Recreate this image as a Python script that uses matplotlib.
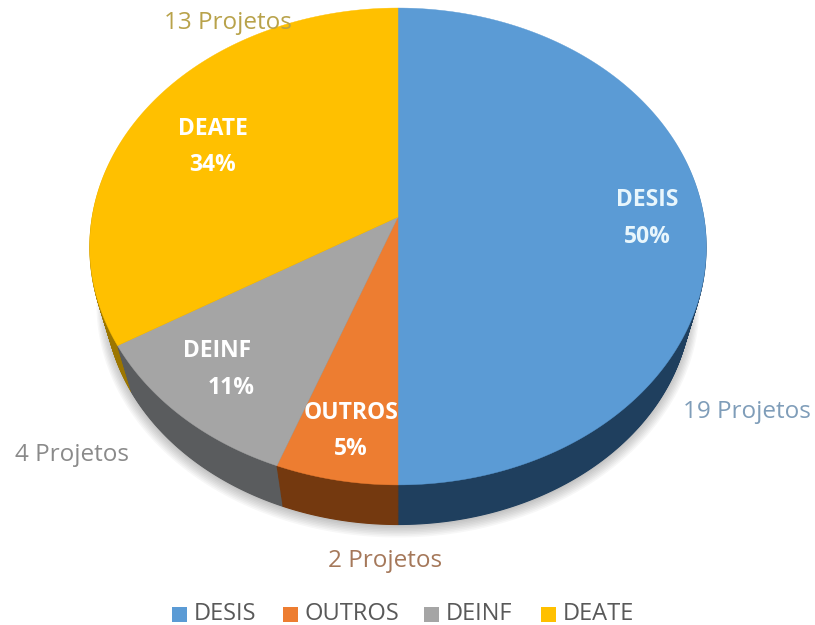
import numpy as np
import matplotlib
matplotlib.use('Agg')
import matplotlib.pyplot as plt
from matplotlib.patches import Rectangle

plt.rcParams['font.family'] = ['Open Sans', 'DejaVu Sans']

# Dados do grafico
setores = ['DESIS', 'OUTROS', 'DEINF', 'DEATE']
projetos = [19, 2, 4, 13]
porcentagens = ['50%', '5%', '11%', '34%']
cores = ['#5B9BD5', '#ED7D31', '#A5A5A5', '#FFC000']
cores_lado = ['#1F3F5E', '#74390F', '#5A5C5E', '#9C7600']
cores_rotulo = ['#7F9DB9', '#A5785A', '#8A8A8A', '#B8A24A']

# Posicao dos textos em pixels
pos_nome = [(647, 200), (351, 413), (217, 351), (213, 129)]
pos_pct = [(647, 237), (351, 449), (231, 388), (213, 165)]
pos_projetos = [(747, 412), (385, 561), (72, 455), (228, 23)]

# Geometria da pizza em perspectiva
cx, cy = 398, 217
a, b, k = 306, 234.8, 0.1236
queda = 53
escala_base = 0.95
camadas = 45


def projetar(x, y, dy=0, escala=1.0):
    d = 1 + k * y
    return cx + escala * a * x / d, cy + dy - escala * b * y / d


def fatia(inicio, fim, dy=0, escala=1.0):
    t = np.linspace(inicio, fim, 200)
    # pequeno ajuste angular da perspectiva
    t = t + np.radians(2.5) * np.sin(2 * (t - np.pi))
    x = np.r_[0, np.sin(t), 0]
    y = np.r_[0, np.cos(t), 0]
    return projetar(x, y, dy, escala)


fig = plt.figure(figsize=(8.15, 6.25), dpi=100)
ax = fig.add_axes([0, 0, 1, 1])
ax.set_xlim(0, 815)
ax.set_ylim(625, 0)
ax.axis('off')

# Sombra
t = np.linspace(0, 2 * np.pi, 400)
for i in range(8):
    sx, sy = projetar(np.sin(t), np.cos(t), queda + 2 + i * 0.5, escala_base + 0.004 * i)
    ax.fill(sx, sy, color='black', alpha=0.03, lw=0, zorder=1)

total = sum(projetos)
limites = 2 * np.pi * np.r_[0, np.cumsum(projetos)] / total

# Lateral
for n in range(camadas, 0, -1):
    f = n / camadas
    for i in [3, 0, 2, 1]:
        ax.fill(*fatia(limites[i], limites[i + 1], queda * f, 1 - (1 - escala_base) * f),
                color=cores_lado[i], lw=0.8, zorder=2)

# Face superior
for i in range(len(setores)):
    ax.fill(*fatia(limites[i], limites[i + 1]), color=cores[i], lw=0.3, zorder=3)

# Rotulos
for i, nome in enumerate(setores):
    cor = '#FFFFFF' if i != 0 else '#E8F6FC'
    ax.text(*pos_nome[i], nome, color=cor, fontsize=16.5, fontweight='bold', ha='center', va='center', zorder=4)
    ax.text(*pos_pct[i], porcentagens[i], color=cor, fontsize=16.5, fontweight='bold',
            ha='center', va='center', zorder=4)
    ax.text(*pos_projetos[i], f'{projetos[i]} Projetos', color=cores_rotulo[i], fontsize=17.5,
            ha='center', va='center', zorder=4)

# Legenda
leg_x = [172, 283, 424, 541]
for i, nome in enumerate(setores):
    ax.add_patch(Rectangle((leg_x[i], 607), 15, 15, color=cores[i], lw=0, zorder=4))
    ax.text(leg_x[i] + 22, 614, nome, color='#595959', fontsize=17, ha='left', va='center', zorder=4)

fig.savefig('out.png', dpi=100)
